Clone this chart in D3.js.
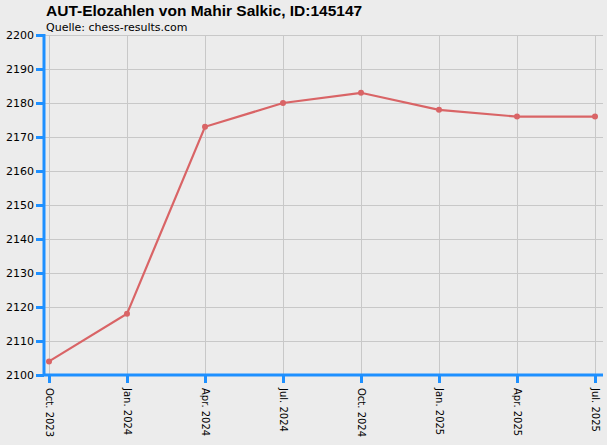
<!DOCTYPE html>
<html>
<head>
<meta charset="utf-8">
<script src="https://cdn.jsdelivr.net/npm/d3@7"></script>
<style>
  body { margin: 0; background: #ececec; }
  svg { display: block; }
</style>
</head>
<body>
<div id="chart-area"></div>
<script>
// data
var quarters = ["Oct. 2023", "Jan. 2024", "Apr. 2024", "Jul. 2024", "Oct. 2024", "Jan. 2025", "Apr. 2025", "Jul. 2025"];
var elo = [2104, 2118, 2173, 2180, 2183, 2178, 2176, 2176];
var yTicks = [2100, 2110, 2120, 2130, 2140, 2150, 2160, 2170, 2180, 2190, 2200];

var chartW = 607, chartH = 445;
var plotLeft = 44, plotRight = 603, plotTop = 35, plotBottom = 375;
var blue = "#1e90ff";

var svg = d3.select("#chart-area").append("svg")
	.attr("width", chartW)
	.attr("height", chartH);

svg.append("rect").attr("width", chartW).attr("height", chartH).style("fill", "#ececec");

var x = d3.scalePoint().domain(quarters).range([49, 595]);
var y = d3.scaleLinear().domain([2100, 2200]).range([plotBottom, plotTop]);

// grid
svg.selectAll(".hgrid").data(yTicks).enter()
	.append("line")
		.attr("x1", plotLeft).attr("x2", plotRight)
		.attr("y1", function(d){ return y(d) + 0.5; })
		.attr("y2", function(d){ return y(d) + 0.5; })
		.style("stroke", "#c8c8c8");

svg.selectAll(".vgrid").data(quarters).enter()
	.append("line")
		.attr("x1", function(d){ return x(d) + 0.5; })
		.attr("x2", function(d){ return x(d) + 0.5; })
		.attr("y1", plotTop).attr("y2", plotBottom)
		.style("stroke", "#c8c8c8");

// y axis
var yAxis = d3.axisLeft(y).tickValues(yTicks).tickSize(8).tickPadding(2).tickFormat(d3.format("d"));
var gy = svg.append("g").attr("transform", "translate(" + plotLeft + ",0)").call(yAxis);
gy.select(".domain").remove();
gy.selectAll(".tick line").style("stroke", blue).style("stroke-width", 3);
gy.selectAll(".tick text").style("font-family", "'DejaVu Sans', sans-serif").style("font-size", "11px").style("fill", "#000");
svg.append("line").attr("x1", plotLeft).attr("x2", plotLeft).attr("y1", plotTop - 1).attr("y2", plotBottom + 1)
	.style("stroke", blue).style("stroke-width", 3);

// x axis
var xAxis = d3.axisBottom(x).tickSize(8).tickPadding(0);
var gx = svg.append("g").attr("transform", "translate(0," + plotBottom + ")").call(xAxis);
gx.select(".domain").remove();
gx.selectAll(".tick line").style("stroke", blue).style("stroke-width", 3);
gx.selectAll(".tick text")
	.attr("transform", "translate(0,13) rotate(90)")
	.attr("x", 0).attr("y", 0).attr("dy", "0.35em")
	.style("text-anchor", "start")
	.style("font-family", "'DejaVu Sans', sans-serif").style("font-size", "10px").style("fill", "#000");
svg.append("line").attr("x1", plotLeft - 1).attr("x2", plotRight).attr("y1", plotBottom).attr("y2", plotBottom)
	.style("stroke", blue).style("stroke-width", 3);

// line
var line = d3.line()
	.x(function(d, i){ return x(quarters[i]); })
	.y(function(d){ return y(d); });

svg.append("path").datum(elo)
	.attr("d", line)
	.style("fill", "none")
	.style("stroke", "#d96466")
	.style("stroke-width", 2.2);

svg.selectAll(".pt").data(elo).enter()
	.append("circle")
		.attr("cx", function(d, i){ return x(quarters[i]); })
		.attr("cy", function(d){ return y(d); })
		.attr("r", 3)
		.style("fill", "#d96466");

// titles
svg.append("text").attr("x", 46).attr("y", 16)
	.text("AUT-Elozahlen von Mahir Salkic, ID:145147")
	.style("font-family", "'Liberation Sans', Arial, sans-serif").style("font-weight", "bold").style("font-size", "15.5px");
svg.append("text").attr("x", 46).attr("y", 31)
	.text("Quelle: chess-results.com")
	.style("font-family", "'DejaVu Sans', sans-serif").style("font-size", "11px");
</script>
</body>
</html>
